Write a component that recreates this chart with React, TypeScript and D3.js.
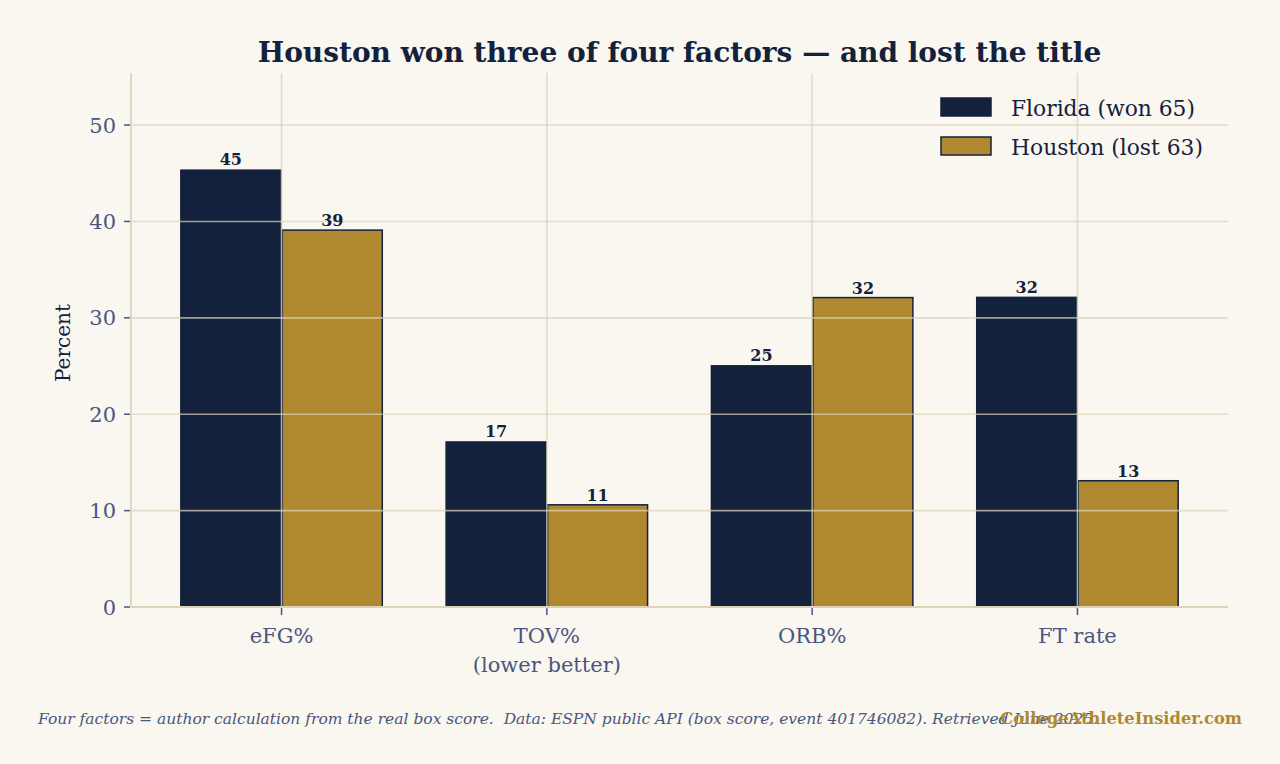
import { useEffect, useRef } from 'react';
import * as d3 from 'd3';

const categories = ['eFG%', 'TOV%\n(lower better)', 'ORB%', 'FT rate'];
const florida = [45.4, 17.2, 25.1, 32.2];
const houston = [39.1, 10.6, 32.1, 13.1];
const seriesNames = ['Florida (won 65)', 'Houston (lost 63)'];
const yTicks = [0, 10, 20, 30, 40, 50];

const W = 1280;
const H = 764;
const NAVY = '#14213d';
const GOLD = '#b08830';
const SLATE = '#4a5680';
const BG = '#f9f7ef';
const FONT = '"DejaVu Serif", Georgia, serif';

export default function App() {
  const svgRef = useRef<SVGSVGElement>(null);

  useEffect(() => {
    document.body.style.margin = '0';
    document.body.style.background = BG;

    const svg = d3.select(svgRef.current);
    svg.selectAll('*').remove();

    const m = { left: 131, right: 1228, top: 73, bottom: 607 };

    svg.append('rect').attr('width', W).attr('height', H).attr('fill', BG);

    const x = d3.scaleBand<number>()
      .domain(d3.range(categories.length))
      .range([m.left, m.right])
      .paddingInner(0.235)
      .paddingOuter(0.185);
    const xs = d3.scaleBand<number>().domain([0, 1]).range([0, x.bandwidth()]);
    const y = d3.scaleLinear().domain([0, 55.4]).range([m.bottom, m.top]);

    const series = [
      { name: seriesNames[0], values: florida, fill: NAVY },
      { name: seriesNames[1], values: houston, fill: GOLD },
    ];

    // bars
    series.forEach((s, si) => {
      svg.append('g')
        .selectAll('rect')
        .data(s.values)
        .join('rect')
        .attr('x', (_, i) => x(i)! + xs(si)! + (si === 1 ? 0.75 : 0))
        .attr('y', d => y(d))
        .attr('width', xs.bandwidth() - (si === 1 ? 1.5 : 0))
        .attr('height', d => y(0) - y(d))
        .attr('fill', s.fill)
        .attr('stroke', NAVY)
        .attr('stroke-width', si === 1 ? 1.5 : 0);
    });

    // grid drawn over the bars
    const grid = svg.append('g').attr('stroke', '#d9d1b8').attr('stroke-opacity', 0.72).attr('stroke-width', 1.6);
    grid.selectAll('line.h')
      .data(yTicks.filter(t => t > 0))
      .join('line')
      .attr('x1', m.left).attr('x2', m.right)
      .attr('y1', d => y(d)).attr('y2', d => y(d));
    grid.selectAll('line.v')
      .data(d3.range(categories.length))
      .join('line')
      .attr('x1', d => x(d)! + x.bandwidth() / 2)
      .attr('x2', d => x(d)! + x.bandwidth() / 2)
      .attr('y1', m.top).attr('y2', m.bottom);

    // spines
    svg.append('line').attr('x1', m.left).attr('x2', m.left).attr('y1', m.top).attr('y2', m.bottom)
      .attr('stroke', '#ddd3b8').attr('stroke-width', 1.8);
    svg.append('line').attr('x1', m.left).attr('x2', m.right).attr('y1', m.bottom).attr('y2', m.bottom)
      .attr('stroke', '#ddd3b8').attr('stroke-width', 1.8);

    // y ticks
    const yt = svg.append('g').selectAll('g').data(yTicks).join('g')
      .attr('transform', d => `translate(0,${y(d)})`);
    yt.append('line').attr('x1', m.left - 7).attr('x2', m.left - 1).attr('stroke', SLATE).attr('stroke-width', 1.5);
    yt.append('text')
      .attr('x', m.left - 15).attr('dy', '0.36em')
      .attr('text-anchor', 'end')
      .attr('font-family', FONT).attr('font-size', 21).attr('fill', SLATE)
      .text(d => d);

    // x ticks
    const xt = svg.append('g').selectAll('g').data(categories).join('g')
      .attr('transform', (_, i) => `translate(${x(i)! + x.bandwidth() / 2},${m.bottom})`);
    xt.append('line').attr('y1', 1).attr('y2', 8).attr('stroke', SLATE).attr('stroke-width', 1.5);
    xt.append('text')
      .attr('text-anchor', 'middle')
      .attr('font-family', FONT).attr('font-size', 21).attr('fill', SLATE)
      .selectAll('tspan')
      .data(d => d.split('\n'))
      .join('tspan')
      .attr('x', 0)
      .attr('y', (_, j) => 36 + j * 29)
      .text(d => d);

    // value labels
    series.forEach((s, si) => {
      svg.append('g')
        .selectAll('text')
        .data(s.values)
        .join('text')
        .attr('x', (_, i) => x(i)! + xs(si)! + xs.bandwidth() / 2)
        .attr('y', d => y(d) - 4)
        .attr('text-anchor', 'middle')
        .attr('font-family', FONT).attr('font-size', 16).attr('font-weight', 'bold').attr('fill', NAVY)
        .text(d => Math.round(d));
    });

    // y label
    svg.append('text')
      .attr('transform', `translate(70,${(m.top + m.bottom) / 2 + 3}) rotate(-90)`)
      .attr('text-anchor', 'middle')
      .attr('font-family', FONT).attr('font-size', 20).attr('fill', NAVY)
      .text('Percent');

    // title
    svg.append('text')
      .attr('x', (m.left + m.right) / 2).attr('y', 62)
      .attr('text-anchor', 'middle')
      .attr('font-family', FONT).attr('font-size', 28).attr('font-weight', 'bold').attr('fill', NAVY)
      .text('Houston won three of four factors \u2014 and lost the title');

    // legend
    const lg = svg.append('g').selectAll('g').data(series).join('g')
      .attr('transform', (_, i) => `translate(941,${98 + i * 39})`);
    lg.append('rect').attr('width', 50).attr('height', 18)
      .attr('fill', d => d.fill).attr('stroke', NAVY).attr('stroke-width', 1.5);
    lg.append('text').attr('x', 70).attr('y', 18)
      .attr('font-family', FONT).attr('font-size', 21.8).attr('fill', NAVY)
      .text(d => d.name);

    // footer
    svg.append('text')
      .attr('x', 38).attr('y', 724)
      .style('white-space', 'pre')
      .attr('font-family', FONT).attr('font-size', 15.5).attr('font-style', 'italic').attr('fill', SLATE)
      .text('Four factors = author calculation from the real box score.  Data: ESPN public API (box score, event 401746082). Retrieved June 2025.');
    svg.append('text')
      .attr('x', 1242).attr('y', 724)
      .attr('text-anchor', 'end')
      .attr('font-family', FONT).attr('font-size', 16.3).attr('font-weight', 'bold').attr('fill', GOLD)
      .text('CollegeAthleteInsider.com');
  }, []);

  return (
    <div style={{ width: W, height: H, background: BG }}>
      <svg ref={svgRef} width={W} height={H} style={{ display: 'block' }} />
    </div>
  );
}
